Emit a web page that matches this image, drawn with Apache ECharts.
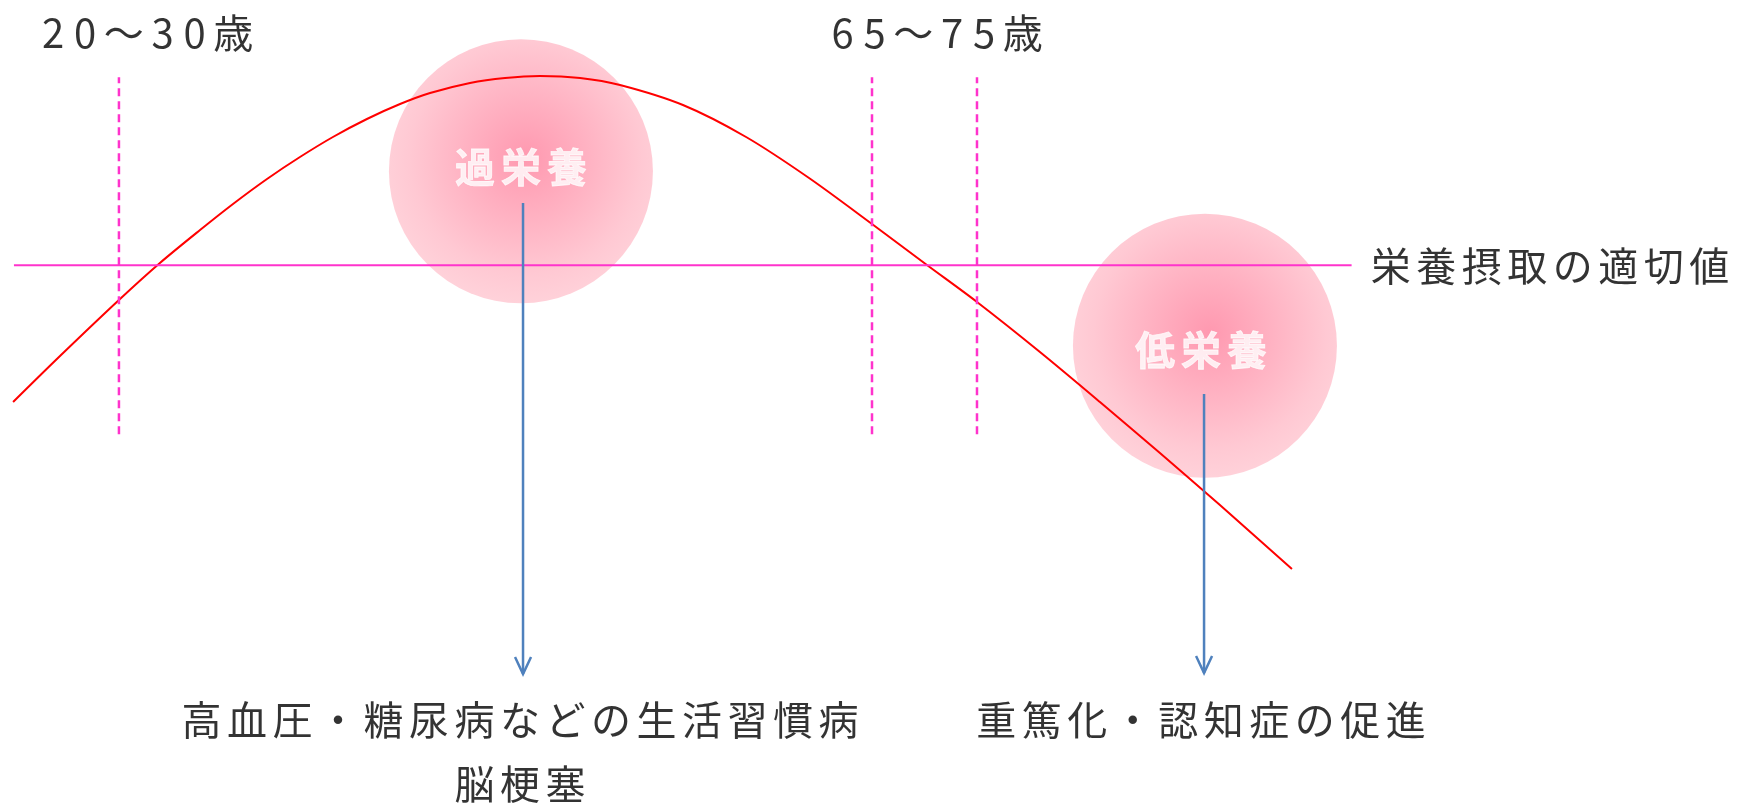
<!DOCTYPE html>
<html>
<head>
<meta charset="utf-8">
<style>
  html, body { margin: 0; padding: 0; background: #fff; }
  #main { width: 1744px; height: 804px; }
</style>
<script src="https://cdn.jsdelivr.net/npm/echarts@6/dist/echarts.min.js"></script>
</head>
<body>
<div id="main"></div>
<script>
// 横軸: 年齢の流れ (0-100)、縦軸: 栄養状態 (0-100)
const curveX = [0.75, 3.44, 6.82, 9.17, 11.47, 13.36, 15.31, 17.2, 19.09, 21.04, 22.94, 24.66, 26.95, 28.96, 30.96, 33.26, 35.55, 39.16, 42.78, 46.39, 50.0, 53.15, 56.02, 59.63, 63.07, 66.51, 69.95, 74.08];
const curveY = [50.0, 55.72, 62.69, 67.29, 71.39, 74.63, 77.74, 80.47, 82.96, 85.2, 87.06, 88.43, 89.68, 90.3, 90.55, 90.3, 89.43, 86.94, 82.96, 77.86, 72.14, 67.04, 62.44, 56.22, 50.0, 43.66, 37.19, 29.23];

// 適切値ライン
const levelY = 67.0;
const levelRange = [0.8, 77.5];
const levelLabel = '栄養摂取の適切値';
const levelLabelX = 88.88;

// 年齢の区切り（破線）
const ageLineX = [6.82, 50.0, 56.02];
const ageLineRange = [46.0, 90.4];
const ageLabels = ['20～30歳', '65～75歳'];
const ageLabelX = [8.4, 53.67];
const ageLabelY = 95.9;

// 過栄養・低栄養
const bubbleNames = ['過栄養', '低栄養'];
const bubbleX = [29.87, 69.09];
const bubbleY = [78.7, 57.0];

// 矢印
const arrowX = [29.99, 69.04];
const arrowFrom = [74.75, 51.0];
const arrowTo = [16.17, 16.3];

// 結果
const outcomeLabels = ['高血圧・糖尿病などの生活習慣病', '脳梗塞', '重篤化・認知症の促進'];
const outcomeX = [29.82, 29.82, 68.86];
const outcomeY = [10.45, 2.49, 10.45];

const FONT = '"Noto Sans CJK JP", "Noto Sans", sans-serif';

// 文字間隔をあけるため一文字ずつ rich に分ける
function spaced(text, key) {
  return text.split('').map(function (c) {
    const half = /[0-9A-Za-z]/.test(c);
    return '{' + key + (half ? 'h' : 'f') + '|' + c + '}';
  }).join('');
}

const chart = echarts.init(document.getElementById('main'));

const textPoints = [];
ageLabels.forEach((t, i) => textPoints.push({ name: t, value: [ageLabelX[i], ageLabelY] }));
textPoints.push({ name: levelLabel, value: [levelLabelX, levelY] });
outcomeLabels.forEach((t, i) => textPoints.push({ name: t, value: [outcomeX[i], outcomeY[i]] }));

const bubbleOffsets = [[0, -4], [-4, 4]];

const series = [];

series.push({
  type: 'scatter',
  z: 1,
  symbolSize: 264,
  data: bubbleNames.map((n, i) => ({
    name: n,
    value: [bubbleX[i], bubbleY[i]],
    label: { offset: bubbleOffsets[i] }
  })),
  itemStyle: {
    color: new echarts.graphic.RadialGradient(0.52, 0.45, 0.55, [
      { offset: 0, color: '#FF7F9C' },
      { offset: 0.4, color: '#FF9DB2' },
      { offset: 0.8, color: '#FFBBC8' },
      { offset: 1, color: '#FFC6D0' }
    ])
  },
  label: {
    show: true,
    position: 'inside',
    formatter: p => spaced(p.name, 'b'),
    color: '#fff',
    fontFamily: FONT,
    fontWeight: 'bold',
    fontSize: 40,
    rich: {
      bf: {
        width: 46, align: 'center', color: '#fff', fontWeight: 'bold', fontSize: 40, fontFamily: FONT,
        textBorderColor: '#fff', textBorderWidth: 0.8
      }
    }
  }
});

series.push({
  type: 'line',
  z: 2,
  data: curveX.map((x, i) => [x, curveY[i]]),
  smooth: 0.3,
  symbol: 'none',
  lineStyle: { color: '#FF0000', width: 2 }
});

series.push({
  type: 'line',
  z: 2,
  data: levelRange.map(x => [x, levelY]),
  symbol: 'none',
  lineStyle: { color: '#FF33CC', width: 2 }
});

ageLineX.forEach(x => {
  series.push({
    type: 'line',
    z: 2,
    data: ageLineRange.map(y => [x, y]),
    symbol: 'none',
    lineStyle: { color: '#FF33CC', width: 2.5, type: [8, 5] }
  });
});

series.push({
  type: 'custom',
  z: 3,
  data: arrowX.map((x, i) => [x, arrowFrom[i], arrowTo[i]]),
  renderItem: function (params, api) {
    const a = api.coord([api.value(0), api.value(1)]);
    const b = api.coord([api.value(0), api.value(2)]);
    const style = { stroke: '#4F81BD', lineWidth: 2.5, fill: null };
    return {
      type: 'group',
      children: [
        { type: 'line', shape: { x1: a[0], y1: a[1], x2: b[0], y2: b[1] }, style: style },
        { type: 'polyline', shape: { points: [[b[0] - 8, b[1] - 17], [b[0], b[1]], [b[0] + 8, b[1] - 17]] }, style: style }
      ]
    };
  }
});

series.push({
  type: 'scatter',
  z: 4,
  symbolSize: 0,
  data: textPoints,
  label: {
    show: true,
    position: 'inside',
    formatter: p => spaced(p.name, 't'),
    color: '#000',
    fontFamily: FONT,
    fontSize: 40,
    rich: {
      tf: { width: 45.5, align: 'center', color: '#000', fontSize: 40, fontFamily: FONT },
      th: { width: 32, align: 'center', color: '#000', fontSize: 40, fontFamily: FONT }
    }
  }
});

chart.setOption({
  animation: false,
  backgroundColor: '#fff',
  grid: { left: 0, right: 0, top: 0, bottom: 0 },
  xAxis: { type: 'value', min: 0, max: 100, show: false },
  yAxis: { type: 'value', min: 0, max: 100, show: false },
  series: series
});
</script>
</body>
</html>
